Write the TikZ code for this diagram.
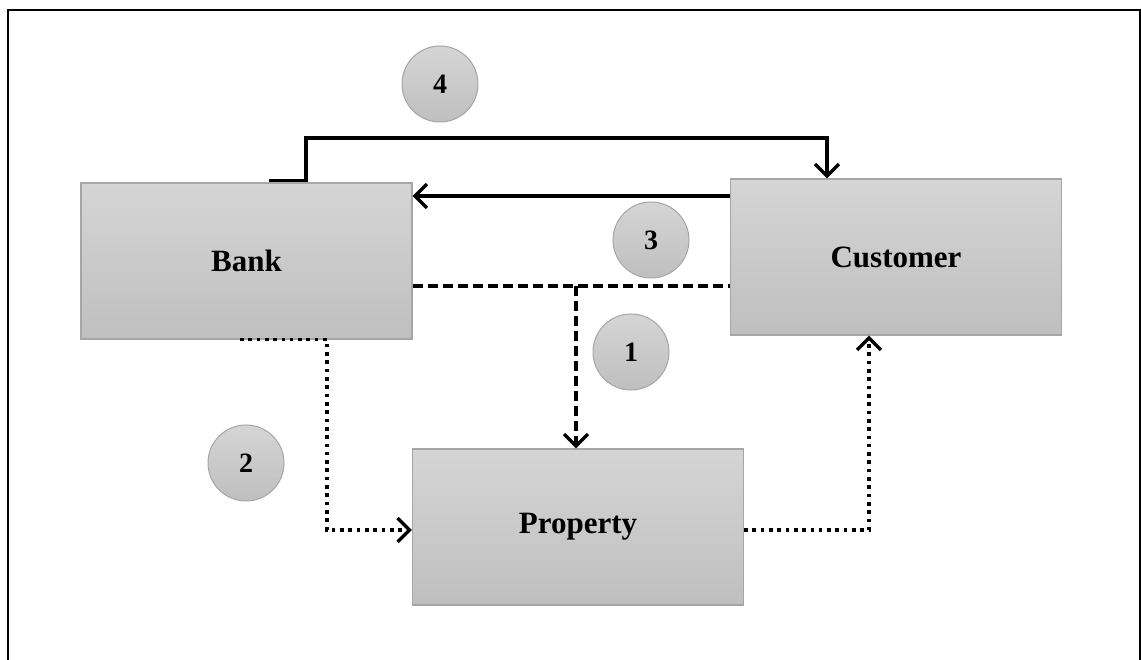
\documentclass[tikz,border=0pt]{standalone}
\usepackage{fontspec}
\setmainfont{Liberation Serif}
\usetikzlibrary{arrows.meta}
\definecolor{fillTop}{RGB}{213,213,213}
\definecolor{fillBot}{RGB}{191,191,191}
\definecolor{edgeGray}{RGB}{166,166,166}
\tikzset{
  party/.style={rectangle, draw=edgeGray, line width=1.2pt, top color=fillTop, bottom color=fillBot,
    minimum width=331pt, minimum height=156pt, inner sep=0pt,
    font=\fontsize{31}{31}\selectfont\bfseries},
  stepmark/.style={circle, draw=edgeGray, line width=1pt, top color=fillTop, bottom color=fillBot,
    minimum size=76pt, inner sep=0pt, font=\fontsize{28}{28}\selectfont\bfseries},
  tipv/.style={-{Straight Barb[length=12pt,width=24pt,line width=3.3pt]}},
  solidflow/.style={line width=3.3pt, tipv},
  dashflow/.style={line width=3.3pt, dash pattern=on 10pt off 5pt},
  dotflow/.style={line width=3.6pt, dash pattern=on 3.6pt off 4.7pt}
}
\begin{document}
\begin{tikzpicture}[x=1pt, y=-1pt]
\useasboundingbox (0,0) rectangle (1141,660);
% outer frame (open at the bottom edge)
\draw[line width=2pt] (8,662) -- (8,10) -- (1140,10) -- (1140,662);

% parties
\node[party] (bank) at (246.5,261) {Bank};
\node[party] (customer) at (896,257) {Customer};
\node[party] (property) at (578,527) {Property};

% step markers
\node[stepmark] (s4) at (440,84) {4};
\node[stepmark] (s3) at (651,240) {3};
\node[stepmark] (s1) at (631,352) {1};
\node[stepmark] (s2) at (246,463) {2};

% helper coordinates for connector routing
\coordinate (h4) at (0,138);
\coordinate (h3) at (0,196);
\coordinate (h1) at (0,286);
\coordinate (h2) at (0,530);
\coordinate (v4a) at (269,0);
\coordinate (v4b) at (306,0);
\coordinate (v4c) at (827,0);
\coordinate (v2a) at (240,0);
\coordinate (v2b) at (327,0);
\coordinate (v5) at (869,0);
\coordinate (j1) at (576,286);

% step 4: bank to customer, routed over the top
\draw[solidflow, line cap=butt, line join=miter]
  ([yshift=1.6pt]bank.north -| v4a) -- ([yshift=1.6pt]bank.north -| v4b) -- (v4b |- h4) -- (v4c |- h4) -- (customer.north -| v4c);

% step 3: customer to bank
\draw[solidflow] (customer.west |- h3) -- (bank.east |- h3);

% step 1: bank -- customer link with branch down to property
\draw[dashflow] (bank.east |- h1) -- (customer.west |- h1);
\draw[dashflow, tipv] (j1) -- (j1 |- property.north);

% step 2: bank to property
\draw[dotflow, tipv] (bank.south -| v2a) -- (bank.south -| v2b) -- (v2b |- h2) -- (property.west |- h2);

% property to customer
\draw[dotflow, tipv] (property.east |- h2) -- (v5 |- h2) -- (customer.south -| v5);
\end{tikzpicture}
\end{document}
